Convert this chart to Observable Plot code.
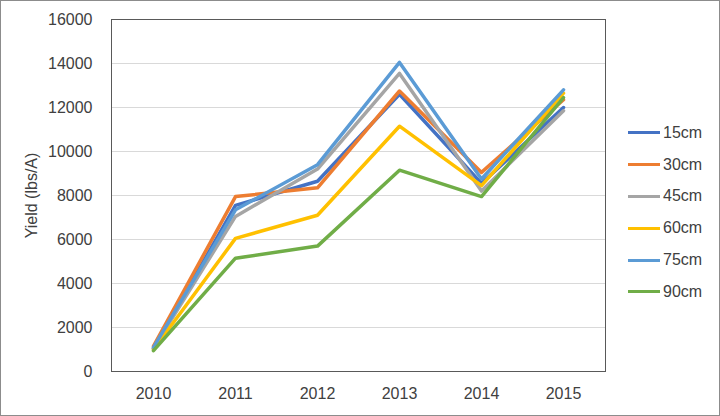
<!DOCTYPE html>
<html>
<head>
<meta charset="utf-8">
<script src="https://cdn.jsdelivr.net/npm/d3@7"></script>
<script src="https://cdn.jsdelivr.net/npm/@observablehq/plot@0.6"></script>
<style>
  html, body { margin: 0; padding: 0; background: #fff; }
  #wrap { position: relative; width: 720px; height: 416px; overflow: hidden; font-family: "Liberation Sans", Arial, sans-serif; }
  #border { position: absolute; left: 0; top: 0; width: 718px; height: 414px; border: 1px solid #8c8c8c; pointer-events: none; }
  #legend { position: absolute; left: 628px; top: 117px; }
  .row { display: flex; align-items: center; height: 31.8px; font-size: 16px; color: #404040; }
  .sw { width: 32px; height: 3px; margin-right: 3px; }
</style>
</head>
<body>
<div id="wrap"><div id="legend"></div><div id="border"></div></div>
<script>
const years = ["2010", "2011", "2012", "2013", "2014", "2015"];
const seriesNames = ["15cm", "30cm", "45cm", "60cm", "75cm", "90cm"];
const seriesColors = ["#4472C4", "#ED7D31", "#A5A5A5", "#FFC000", "#5B9BD5", "#70AD47"];
const y15 = [1050, 7550, 8650, 12600, 8550, 12000];
const y30 = [1150, 7950, 8350, 12750, 9050, 12350];
const y45 = [1050, 7050, 9200, 13550, 8200, 11850];
const y60 = [1000, 6050, 7100, 11150, 8450, 12650];
const y75 = [1100, 7350, 9400, 14050, 8750, 12800];
const y90 = [950, 5150, 5700, 9150, 7950, 12450];
const yTicks = [0, 2000, 4000, 6000, 8000, 10000, 12000, 14000, 16000];
const yLabel = "Yield (lbs/A)";

const allValues = [y15, y30, y45, y60, y75, y90];
const data = [];
seriesNames.forEach((s, i) => {
  years.forEach((yr, j) => data.push({series: s, year: yr, value: allValues[i][j]}));
});

const chart = Plot.plot({
  width: 720,
  height: 416,
  marginLeft: 111,
  marginRight: 115,
  marginTop: 19,
  marginBottom: 45,
  style: {fontFamily: "'Liberation Sans', Arial, sans-serif", fontSize: "16px", color: "#404040", background: "transparent"},
  x: {type: "point", domain: years, padding: 0.5},
  y: {domain: [0, 16000], labelArrow: false},
  color: {domain: seriesNames, range: seriesColors},
  marks: [
    Plot.gridY(yTicks, {stroke: "#d9d9d9", strokeOpacity: 1, strokeWidth: 1}),
    Plot.axisY(yTicks, {tickSize: 0, tickPadding: 19, fontSize: 16, fill: "#404040", tickFormat: d => String(d), label: yLabel, labelArrow: false, labelAnchor: "center", labelOffset: 86}),
    Plot.axisX({tickSize: 0, tickPadding: 16, fontSize: 16, fill: "#404040", label: null}),
    Plot.lineY(data, {x: "year", y: "value", z: "series", stroke: "series", strokeWidth: 3.5}),
    Plot.frame({stroke: "#595959", strokeWidth: 1})
  ]
});
document.getElementById("wrap").prepend(chart);

const legend = document.getElementById("legend");
seriesNames.forEach((s, i) => {
  const row = document.createElement("div");
  row.className = "row";
  const sw = document.createElement("span");
  sw.className = "sw";
  sw.style.background = seriesColors[i];
  const t = document.createElement("span");
  t.textContent = s;
  row.append(sw, t);
  legend.append(row);
});
</script>
</body>
</html>
